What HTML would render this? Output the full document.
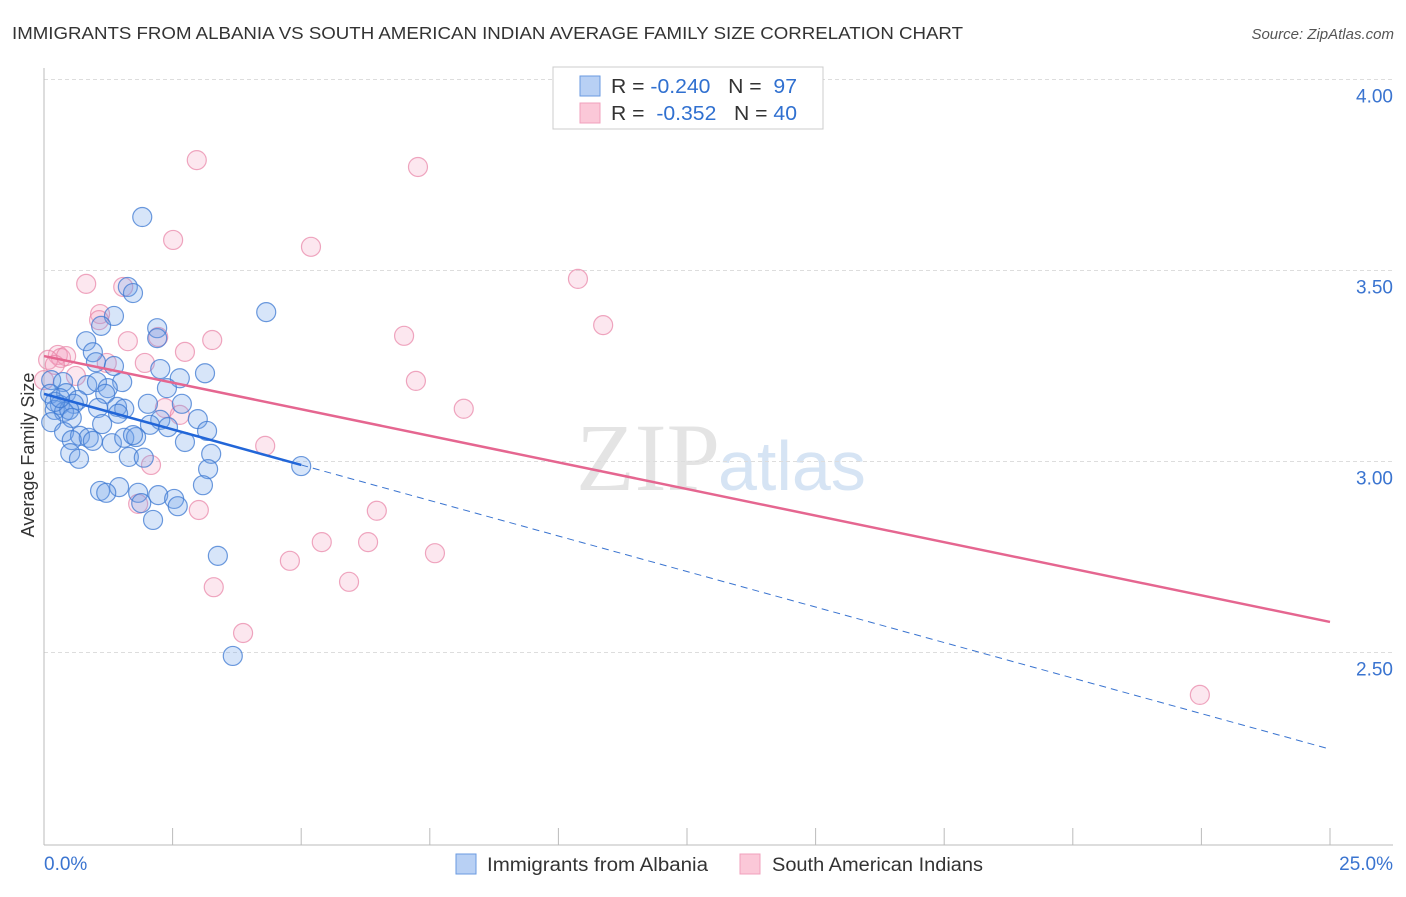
<!DOCTYPE html>
<html><head><meta charset="utf-8"><style>
body{margin:0;background:#fff;font-family:"Liberation Sans",sans-serif}
</style></head><body>
<svg width="1406" height="892" xmlns="http://www.w3.org/2000/svg" id="chart">
<text x="12" y="39" font-size="17.5" fill="#333" textLength="951" lengthAdjust="spacingAndGlyphs">IMMIGRANTS FROM ALBANIA VS SOUTH AMERICAN INDIAN AVERAGE FAMILY SIZE CORRELATION CHART</text>
<text x="1394" y="39" font-size="15" fill="#555" font-style="italic" text-anchor="end">Source: ZipAtlas.com</text>
<text x="720" y="490" font-size="96" fill="#e4e4e4" text-anchor="end" font-family="Liberation Serif">ZIP</text>
<text x="718" y="490" font-size="70" fill="#d6e4f4">atlas</text>
<g id="grid"></g>
<g id="axes"></g>
<g id="marks"></g>
<text transform="translate(34,455) rotate(-90)" font-size="18" fill="#333" text-anchor="middle">Average Family Size</text>
<g>
<rect x="553" y="67" width="270" height="62" fill="#fff" stroke="#ccc"/>
<rect x="580" y="76" width="20" height="20" fill="#b8d0f4" stroke="#6a9ae0"/>
<rect x="580" y="103" width="20" height="20" fill="#fbc8d8" stroke="#f0a0bc"/>
<text x="611" y="93" font-size="20" fill="#333" textLength="186" lengthAdjust="spacingAndGlyphs">R = <tspan fill="#3070d0">-0.240</tspan>&#160;&#160;&#160;N = &#160;<tspan fill="#3070d0">97</tspan></text>
<text x="611" y="120" font-size="20" fill="#333" textLength="186" lengthAdjust="spacingAndGlyphs">R = &#160;<tspan fill="#3070d0">-0.352</tspan>&#160;&#160;&#160;N = <tspan fill="#3070d0">40</tspan></text>
</g>
<g>
<rect x="456" y="854" width="20" height="20" fill="#b8d0f4" stroke="#6a9ae0"/>
<text x="487" y="871" font-size="19" fill="#333" textLength="221" lengthAdjust="spacingAndGlyphs">Immigrants from Albania</text>
<rect x="740" y="854" width="20" height="20" fill="#fbc8d8" stroke="#f0a0bc"/>
<text x="772" y="871" font-size="19" fill="#333" textLength="211" lengthAdjust="spacingAndGlyphs">South American Indians</text>
</g>
</svg>
<script>
const blueX=[1.91,1.63,1.73,4.32,1.36,1.11,2.20,2.20,0.82,0.95,1.01,1.36,2.26,3.13,2.64,0.14,0.37,1.52,0.84,1.03,1.24,2.39,0.12,0.43,0.66,1.19,0.31,0.58,1.05,1.42,1.56,2.02,2.68,0.21,0.39,0.49,1.44,2.99,0.14,0.54,1.13,2.26,2.06,2.41,3.17,0.39,0.70,0.87,0.54,0.95,1.32,1.56,1.79,1.73,2.74,0.51,0.68,1.65,1.94,3.25,3.19,5.00,3.09,1.46,1.09,1.21,1.83,2.22,2.53,2.60,1.89,2.12,3.38,3.67,0.21,0.31];
const blueY=[3.640,3.457,3.441,3.391,3.381,3.355,3.349,3.323,3.315,3.286,3.260,3.250,3.242,3.231,3.218,3.213,3.208,3.208,3.200,3.208,3.192,3.192,3.177,3.179,3.161,3.177,3.148,3.151,3.140,3.143,3.138,3.151,3.151,3.135,3.130,3.135,3.125,3.111,3.103,3.114,3.098,3.109,3.096,3.090,3.080,3.077,3.067,3.062,3.056,3.054,3.048,3.062,3.064,3.069,3.051,3.022,3.007,3.012,3.010,3.020,2.980,2.988,2.938,2.933,2.923,2.918,2.918,2.912,2.902,2.883,2.891,2.847,2.753,2.491,3.156,3.166];
const pinkX=[2.97,7.27,2.51,5.19,0.82,10.38,1.54,1.09,1.07,10.87,7.00,3.27,1.63,2.22,2.74,0.27,0.33,0.43,0.08,0.21,1.22,1.96,0.62,7.23,0.00,2.35,2.64,8.16,4.30,2.08,1.83,3.01,6.47,5.40,6.30,7.60,4.78,5.93,3.30,3.87,22.47];
const pinkY=[3.789,3.771,3.580,3.562,3.465,3.478,3.457,3.386,3.370,3.357,3.329,3.318,3.315,3.326,3.287,3.279,3.271,3.276,3.266,3.253,3.258,3.258,3.224,3.211,3.213,3.140,3.122,3.138,3.041,2.991,2.889,2.873,2.871,2.789,2.789,2.760,2.740,2.685,2.671,2.551,2.389];
const yTicks=[4.0,3.5,3.0,2.5];
const yTickLabels=["4.00","3.50","3.00","2.50"];
const xTicks=[0,2.5,5,7.5,10,12.5,15,17.5,20,22.5,25];
const blueTrend=[3.177,2.247]; // y at x=0 and x=25
const blueSolidEnd=[5.0];
const pinkTrend=[3.276,2.580];

const NS="http://www.w3.org/2000/svg";
const sx=v=>44+v*51.44;
const sy=v=>79.5+(4-v)*382;
function mk(tag,attrs,parent){const e=document.createElementNS(NS,tag);for(const k in attrs)e.setAttribute(k,attrs[k]);parent.appendChild(e);return e;}
const grid=document.getElementById('grid'),axes=document.getElementById('axes'),marks=document.getElementById('marks');
yTicks.forEach((t,i)=>{
  const l=mk('line',{x1:44,x2:1393,y1:sy(t),y2:sy(t),stroke:'#ddd','stroke-dasharray':'4,3'},grid);
  
  
  const tx=mk('text',{x:1393,y:sy(t)+23,'font-size':19,fill:'#3a74d0','text-anchor':'end'},axes);
  tx.textContent=yTickLabels[i];
  
  
});
let a=mk('line',{x1:44,x2:44,y1:68,y2:845,stroke:'#bbb'},axes);


a=mk('line',{x1:44,x2:1393,y1:845,y2:845,stroke:'#bbb'},axes);


xTicks.forEach(t=>{
  const l=mk('line',{x1:sx(t),x2:sx(t),y1:828,y2:845,stroke:'#bbb'},axes);
  
  
});
let t0=mk('text',{x:44,y:870,'font-size':19,fill:'#3a74d0'},axes);t0.textContent='0.0%';


let t1=mk('text',{x:1393,y:870,'font-size':19,fill:'#3a74d0','text-anchor':'end'},axes);t1.textContent='25.0%';



pinkX.forEach((x,i)=>{
  const c=mk('circle',{cx:sx(x),cy:sy(pinkY[i]),r:9.5,fill:'rgba(244,160,190,0.25)',stroke:'rgba(232,130,165,0.7)','stroke-width':1.2},marks);
  
  
});
blueX.forEach((x,i)=>{
  const c=mk('circle',{cx:sx(x),cy:sy(blueY[i]),r:9.5,fill:'rgba(110,160,235,0.28)',stroke:'rgba(60,120,210,0.75)','stroke-width':1.2},marks);
  
  
});
const by=x=>blueTrend[0]+(blueTrend[1]-blueTrend[0])*x/25;
let ln=mk('line',{x1:sx(blueSolidEnd[0]),y1:sy(by(blueSolidEnd[0])),x2:sx(25),y2:sy(by(25)),stroke:'#3a74d0','stroke-width':1,'stroke-dasharray':'7,5'},marks);


ln=mk('line',{x1:sx(0),y1:sy(by(0)),x2:sx(blueSolidEnd[0]),y2:sy(by(blueSolidEnd[0])),stroke:'#2266d8','stroke-width':2.5},marks);


ln=mk('line',{x1:sx(0),y1:sy(pinkTrend[0]),x2:sx(25),y2:sy(pinkTrend[1]),stroke:'#e56690','stroke-width':2.5},marks);


</script>
</body></html>
